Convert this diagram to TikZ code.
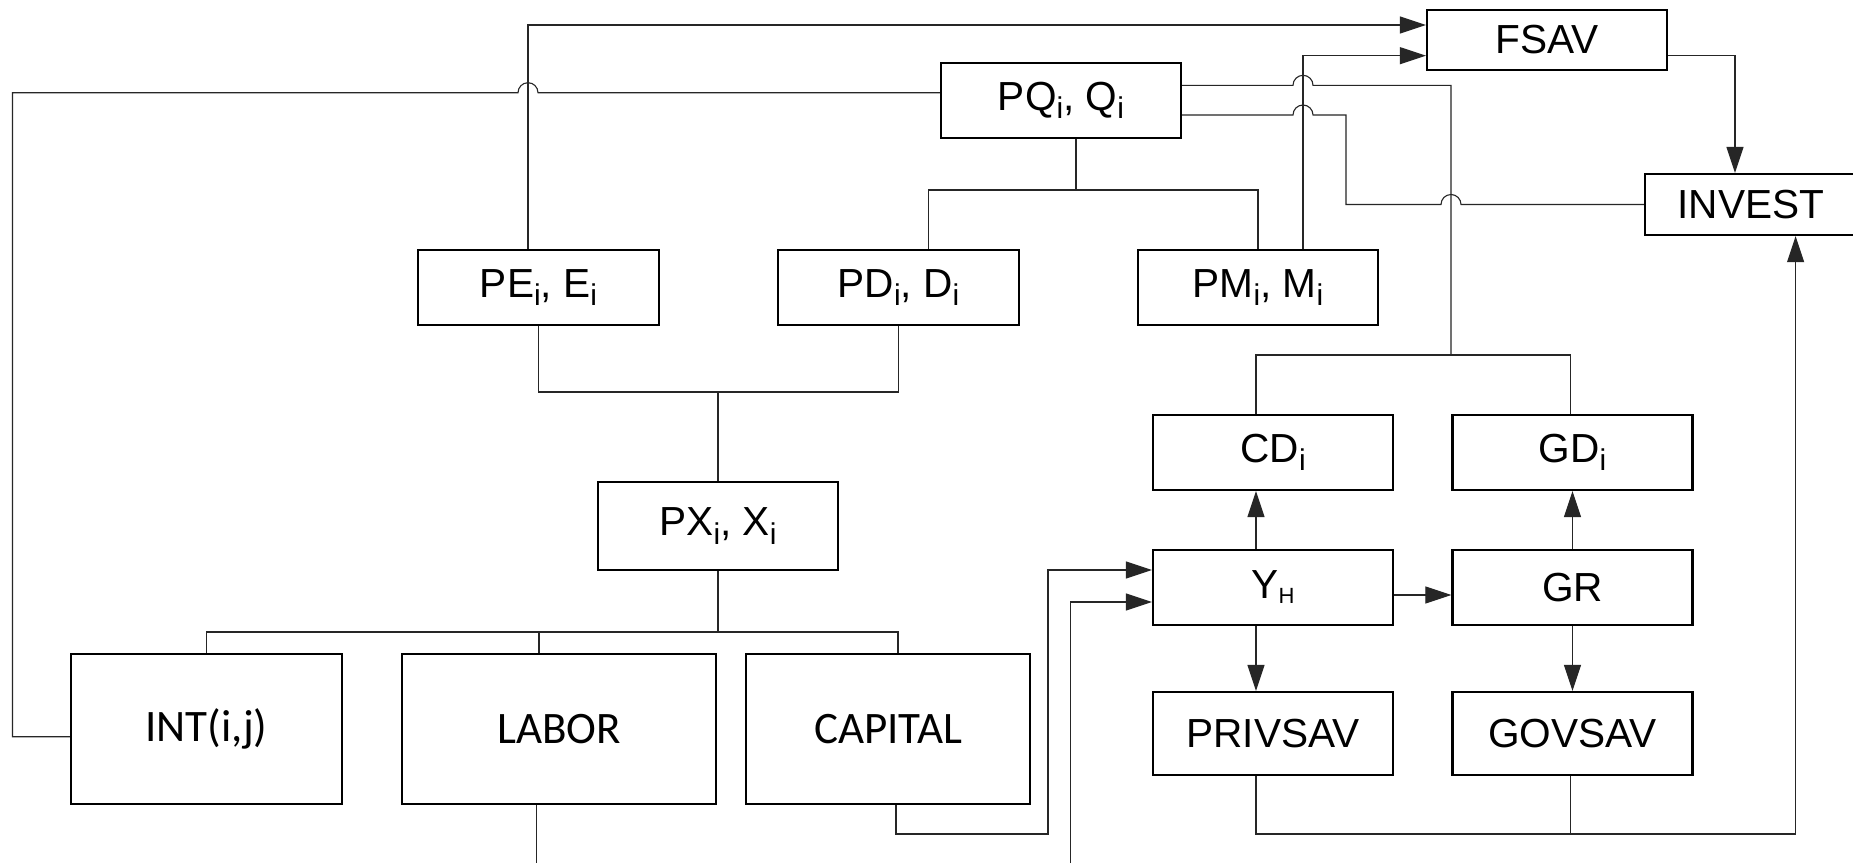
\documentclass[tikz,border=0pt]{standalone}
\usepackage{fontspec}
\setmainfont{Liberation Sans}
\newfontfamily\calibfont{Carlito}
\usetikzlibrary{arrows.meta,calc}
\newcommand\lsub[1]{\raisebox{-4.3pt}{\fontsize{15pt}{15pt}\selectfont #1}}
\newcommand\hsub[1]{\raisebox{-2.5pt}{\fontsize{11pt}{11pt}\selectfont #1}}
\tikzset{
  box/.style={draw, line width=1.1pt, minimum width=120pt, minimum height=37.5pt, inner sep=0pt,
    font=\fontsize{20.3pt}{23pt}\selectfont},
  cbox/.style={box, minimum height=75pt, font=\calibfont\fontsize{22.5pt}{26pt}\selectfont},
  conn/.style={line width=0.55pt, draw=black!85},
  arr/.style={conn, -{Triangle[length=13pt,width=8.5pt]}}
}
\begin{document}
\begin{tikzpicture}[x=0.5pt,y=-0.5pt]
\clip (0,0) rectangle (1853,863);
\fill[white] (0,0) rectangle (1853,863);
% nodes
\node[box, minimum height=30pt] (FSAV) at (1547,40) {FSAV};
\node[box] (PQ) at (1061,100.5) {PQ\lsub{i}, Q\lsub{i}};
\node[box, minimum width=106pt, minimum height=30.5pt] (INVEST) at (1751,204.5) {INVEST};
\node[box, minimum width=120.5pt] (PE) at (538.5,287.5) {PE\lsub{i}, E\lsub{i}};
\node[box, minimum width=120.5pt] (PD) at (898.5,287.5) {PD\lsub{i}, D\lsub{i}};
\node[box] (PM) at (1258,287.5) {PM\lsub{i}, M\lsub{i}};
\node[box] (CD) at (1273,452.5) {CD\lsub{i}};
\node[box] (GD) at (1572.5,452.5) {GD\lsub{i}};
\node[box, minimum height=44pt] (PX) at (718,526) {PX\lsub{i}, X\lsub{i}};
\node[box] (YH) at (1273,587.5) {Y\hsub{H}};
\node[box] (GR) at (1572.5,587.5) {GR};
\node[box, minimum height=41.5pt] (PRIVSAV) at (1273,733.5) {PRIVSAV};
\node[box, minimum height=41.5pt] (GOVSAV) at (1572.5,733.5) {GOVSAV};
\node[cbox, minimum width=135.5pt] (INT) at (206.5,729) {INT(i,j)};
\node[cbox, minimum width=157pt] (LABOR) at (559,729) {LABOR};
\node[cbox, minimum width=142pt] (CAPITAL) at (888,729) {CAPITAL};
% junction coordinates
\coordinate (jq) at (1076,190);
\coordinate (jc) at (1451,355);
\coordinate (jx) at (718,392);
\coordinate (jf) at (718,632);
\coordinate (bot) at (0,834);
\coordinate (lb) at (536.6,863);
\coordinate (yin) at (1070.5,863);
% connectors
\draw[arr] ([xshift=-5.25pt]PE.north) |- ([yshift=7.5pt]FSAV.west);
\draw[arr] ([xshift=22.5pt]PM.north) |- ([yshift=-7.85pt]FSAV.west);
\draw[arr] ([yshift=-7.85pt]FSAV.east) -| ([xshift=-8pt]INVEST.north);
\draw[conn] ([yshift=3.9pt]PQ.west) -- (538,92.7) arc[start angle=0,end angle=180,radius=5pt]
  -- (12.5,92.7) |- ([yshift=-3.85pt]INT.west);
\draw[conn] ([xshift=7.5pt]PQ.south) -- (jq);
\draw[conn] ([xshift=15pt]PD.north) |- (jq) -| (PM.north);
\draw[conn] ([yshift=7.6pt]PQ.east) -- (1293,85.3) arc[start angle=180,end angle=0,radius=5pt]
  -- (1451,85.3) -- (jc);
\draw[conn] ([xshift=-8.5pt]CD.north) |- (jc) -| ([xshift=-1pt]GD.north);
\draw[conn] ([yshift=-7.25pt]PQ.east) -- (1293,115) arc[start angle=180,end angle=0,radius=5pt]
  -- (1346,115) |- (1441,204.5) arc[start angle=180,end angle=0,radius=5pt] -- (INVEST.west);
\draw[conn] (PE.south) |- (jx) -| (PD.south);
\draw[conn] (PX.north) -- (jx);
\draw[conn] (PX.south) -- (jf);
\draw[conn] (INT.north) |- (jf) -| ([xshift=5pt]CAPITAL.north);
\draw[conn] ([xshift=-10pt]LABOR.north) -- ([xshift=-10pt]LABOR.north |- jf);
\draw[conn] ([xshift=-11.2pt]LABOR.south) -- (lb);
\draw[arr] ([xshift=4pt]CAPITAL.south) |- (1048,834) |- ([yshift=8.75pt]YH.west);
\draw[arr] (yin) |- ([yshift=-7.25pt]YH.west);
\draw[arr] ([xshift=-8.5pt]YH.north) -- ([xshift=-8.5pt]CD.south);
\draw[arr] ([xshift=-8.5pt]YH.south) -- ([xshift=-8.5pt]PRIVSAV.north);
\draw[arr] ([yshift=-3.75pt]YH.east) -- ([yshift=-3.75pt]GR.west);
\draw[arr] (GR.north) -- (GD.south);
\draw[arr] (GR.south) -- (GOVSAV.north);
\draw[arr] ([xshift=-8.5pt]PRIVSAV.south) |- ([xshift=22.3pt]INVEST.south |- bot) -- ([xshift=22.3pt]INVEST.south);
\draw[conn] ([xshift=-1pt]GOVSAV.south) -- ([xshift=-1pt]GOVSAV.south |- bot);
\end{tikzpicture}
\end{document}
